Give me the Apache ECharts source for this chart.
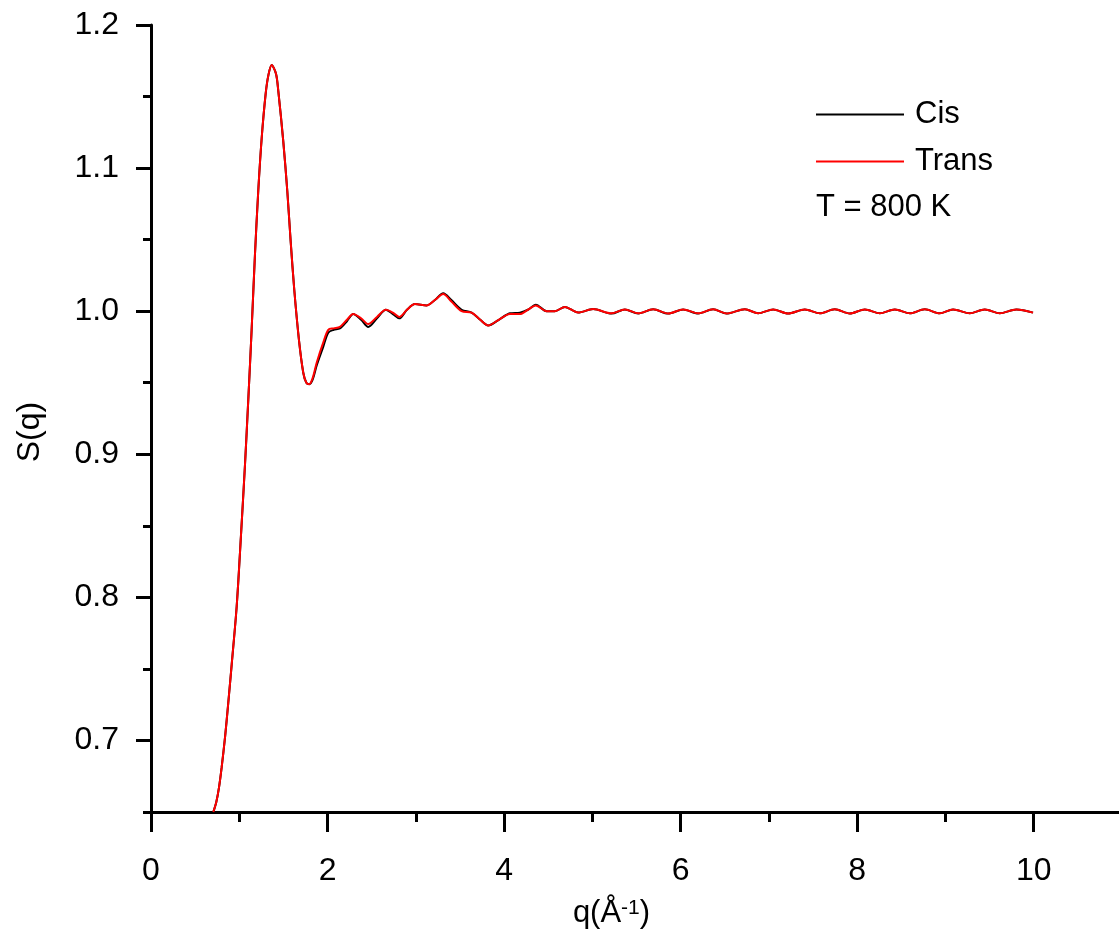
<!DOCTYPE html>
<html><head><meta charset="utf-8">
<script src="https://cdn.jsdelivr.net/npm/echarts@6/dist/echarts.min.js"></script>
<style>html,body{margin:0;padding:0;background:#fff}#c{width:1119px;height:938px}</style>
</head><body><div id="c"></div>
<script>
const qValues = [
  0.706, 0.74, 0.77, 0.80, 0.84, 0.875, 0.914, 0.971, 1.019, 1.065, 1.102, 1.140, 1.178, 1.215, 1.254, 1.299, 1.33, 1.367,
  1.416, 1.442, 1.498, 1.544, 1.582, 1.623, 1.676, 1.725, 1.76, 1.793, 1.83, 1.877, 1.951, 2.008, 2.07, 2.14,
  2.22, 2.291, 2.38, 2.461, 2.56, 2.661, 2.74, 2.812, 2.90, 2.990, 3.122, 3.22, 3.310, 3.40, 3.519, 3.632,
  3.73, 3.820, 3.94, 4.066, 4.179, 4.27, 4.360, 4.481, 4.575, 4.689, 4.839, 5.009,
  5.217, 5.368, 5.519, 5.689, 5.859, 6.028, 6.198, 6.368, 6.520, 6.727, 6.878, 7.048, 7.217, 7.406, 7.576, 7.746,
  7.916, 8.086, 8.256, 8.426, 8.596, 8.766, 8.935, 9.086, 9.275, 9.445, 9.615, 9.804, 9.992
];
const transValues = [
  0.650, 0.657, 0.667, 0.681, 0.703, 0.726, 0.753, 0.794, 0.843, 0.893, 0.938, 0.987, 1.040, 1.084, 1.121, 1.152, 1.165, 1.172,
  1.166, 1.154, 1.119, 1.084, 1.049, 1.015, 0.980, 0.957, 0.950, 0.949, 0.953, 0.964, 0.978, 0.987, 0.988, 0.989,
  0.994, 0.998, 0.995, 0.991, 0.996, 1.001, 0.999, 0.996, 1.001, 1.005, 1.004, 1.008, 1.012, 1.007, 1.000, 0.999,
  0.994, 0.990, 0.994, 0.998, 0.998, 1.001, 1.004, 1.000, 1.000, 1.003, 0.999, 1.0015,
  0.9985, 1.0012, 0.9985, 1.0013, 0.9984, 1.0012, 0.9985, 1.0013, 0.9984, 1.0014, 0.9985, 1.0012, 0.9984, 1.0012, 0.9985, 1.0013,
  0.9984, 1.0012, 0.9985, 1.0012, 0.9985, 1.0013, 0.9985, 1.0012, 0.9985, 1.0012, 0.9985, 1.0012, 0.9990
];
const cisValues = [
  0.650, 0.657, 0.667, 0.681, 0.703, 0.726, 0.753, 0.794, 0.843, 0.893, 0.938, 0.987, 1.040, 1.084, 1.121, 1.152, 1.165, 1.172,
  1.166, 1.154, 1.119, 1.084, 1.049, 1.015, 0.980, 0.957, 0.950, 0.949, 0.952, 0.962, 0.975, 0.985, 0.987, 0.988,
  0.993, 0.998, 0.994, 0.989, 0.995, 1.001, 0.998, 0.995, 1.001, 1.005, 1.004, 1.008, 1.0125, 1.008, 1.001, 0.999,
  0.994, 0.990, 0.994, 0.9985, 0.999, 1.001, 1.0045, 1.000, 1.000, 1.003, 0.999, 1.0015,
  0.9983, 1.0012, 0.9984, 1.0013, 0.9983, 1.0012, 0.9984, 1.0013, 0.9983, 1.0014, 0.9985, 1.0012, 0.9984, 1.0012, 0.9985, 1.0013,
  0.9984, 1.0012, 0.9985, 1.0012, 0.9985, 1.0013, 0.9985, 1.0012, 0.9985, 1.0012, 0.9985, 1.0012, 0.9990
];
const xMajorTicks = [0, 2, 4, 6, 8, 10];
const xMinorTicks = [1, 3, 5, 7, 9];
const yMajorTicks = [0.7, 0.8, 0.9, 1.0, 1.1, 1.2];
const yMinorTicks = [0.65, 0.75, 0.85, 0.95, 1.05, 1.15];

const FONT = '"Liberation Sans", Arial, sans-serif';
const pair = (xs, ys) => xs.map((x, i) => [x, ys[i]]);

const chart = echarts.init(document.getElementById('c'), null, {renderer: 'canvas'});
chart.setOption({
  animation: false,
  backgroundColor: '#fff',
  grid: {left: 151, top: 25, width: 971, height: 787, containLabel: false, outerBoundsMode: 'none'},
  legend: {
    data: ['Cis', 'Trans'], orient: 'vertical', left: 811, top: 94,
    icon: 'rect', itemWidth: 88, itemHeight: 2, itemGap: 16,
    textStyle: {fontSize: 31, color: '#000', fontFamily: FONT, padding: [0, 0, 0, 6]}
  },
  graphic: [{
    type: 'text', x: 816, y: 207,
    style: {text: 'T = 800 K', fill: '#000', font: '31px ' + FONT, verticalAlign: 'middle'}
  }],
  xAxis: [{
    type: 'value', min: 0, max: 11, position: 'bottom',
    axisLine: {onZero: false, lineStyle: {color: '#000', width: 3}},
    axisTick: {customValues: xMajorTicks, length: 20, lineStyle: {color: '#000', width: 3}},
    axisLabel: {customValues: xMajorTicks, margin: 43, fontSize: 32, color: '#000', fontFamily: FONT},
    splitLine: {show: false},
    name: '{a|q(Å}{b|-1}{a|)}', nameLocation: 'middle', nameGap: 86,
    nameTextStyle: {
      color: '#000', fontFamily: FONT, padding: [0, 50, 0, 0],
      rich: {
        a: {fontSize: 31, lineHeight: 31, verticalAlign: 'bottom', fontFamily: FONT, color: '#000'},
        b: {fontSize: 21, lineHeight: 21, padding: [0, 0, 22, 0], verticalAlign: 'top', fontFamily: FONT, color: '#000'}
      }
    }
  }, {
    type: 'value', min: 0, max: 11, position: 'bottom',
    axisLine: {show: false, onZero: false},
    axisTick: {customValues: xMinorTicks, length: 10, lineStyle: {color: '#000', width: 3}},
    axisLabel: {show: false},
    splitLine: {show: false}
  }],
  yAxis: [{
    type: 'value', min: 0.65, max: 1.2, position: 'left',
    axisLine: {onZero: false, lineStyle: {color: '#000', width: 3}},
    axisTick: {customValues: yMajorTicks, length: 15, lineStyle: {color: '#000', width: 3}},
    axisLabel: {customValues: yMajorTicks, margin: 32, fontSize: 32, color: '#000', fontFamily: FONT,
      formatter: v => v.toFixed(1)},
    splitLine: {show: false},
    name: 'S(q)', nameLocation: 'middle', nameGap: 105, nameRotate: 90,
    nameTextStyle: {fontSize: 32, color: '#000', fontFamily: FONT, padding: [0, 27, 0, 0]}
  }, {
    type: 'value', min: 0.65, max: 1.2, position: 'left',
    axisLine: {show: false, onZero: false},
    axisTick: {customValues: yMinorTicks, length: 8, lineStyle: {color: '#000', width: 3}},
    axisLabel: {show: false},
    splitLine: {show: false}
  }],
  series: [{
    name: 'Cis', type: 'line', xAxisIndex: 0, yAxisIndex: 0,
    data: pair(qValues, cisValues), smooth: 0.3, symbol: 'none',
    lineStyle: {color: '#000', width: 2}, itemStyle: {color: '#000'}
  }, {
    name: 'Trans', type: 'line', xAxisIndex: 0, yAxisIndex: 0,
    data: pair(qValues, transValues), smooth: 0.3, symbol: 'none',
    lineStyle: {color: '#ff0000', width: 2}, itemStyle: {color: '#ff0000'}
  }]
});
</script></body></html>
